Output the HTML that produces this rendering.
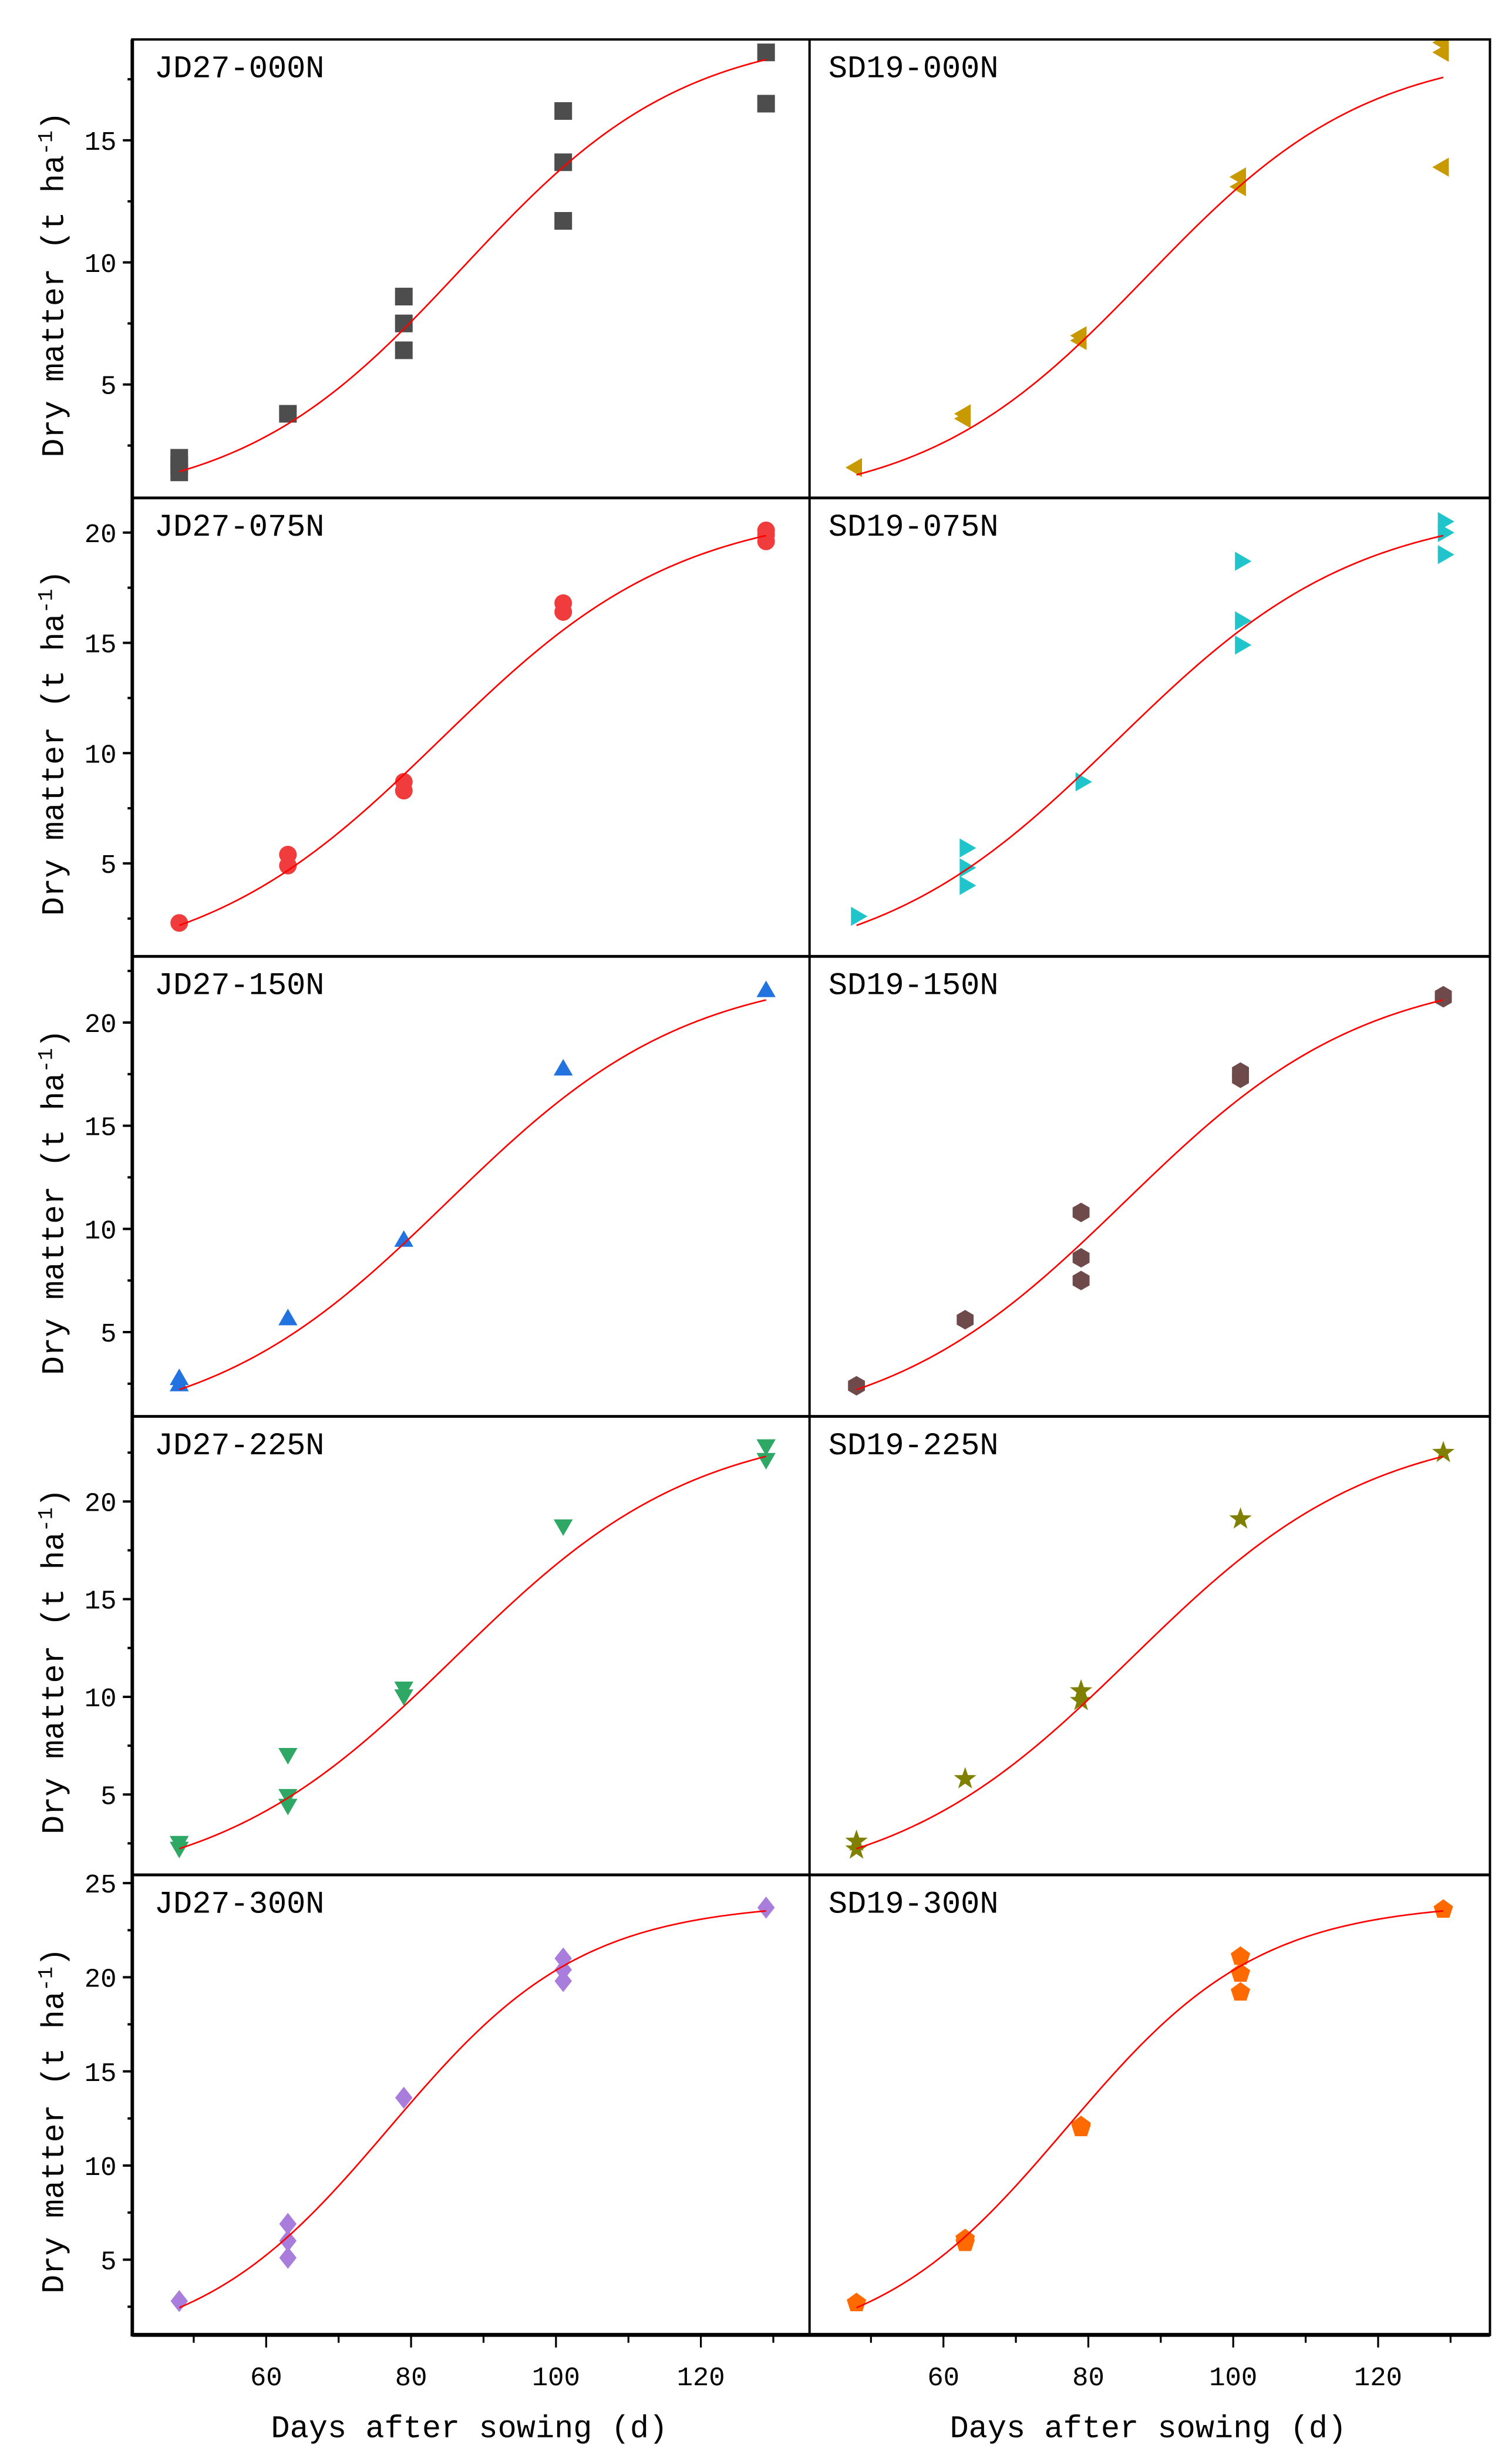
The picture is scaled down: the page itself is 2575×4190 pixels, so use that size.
<!DOCTYPE html>
<html><head><meta charset="utf-8"><style>
html,body{margin:0;padding:0;background:#fff;}
svg{display:block;}
text{font-family:"Liberation Mono","Noto Sans CJK SC",monospace;fill:#000;}
</style></head>
<body>
<svg id="chart" width="2575" height="4190" viewBox="0 0 960 1562" xmlns="http://www.w3.org/2000/svg"></svg>
<script>
const panelTitles = [["JD27-000N","SD19-000N"],["JD27-075N","SD19-075N"],["JD27-150N","SD19-150N"],["JD27-225N","SD19-225N"],["JD27-300N","SD19-300N"]];
const days = [48,63,79,101,129];
const jd000 = [[2.0,1.7,1.4],[3.8],[8.6,7.5,6.4],[16.2,14.1,11.7],[18.6,16.5]];
const sd000 = [[1.6],[3.8,3.6],[7.0,6.8],[13.5,13.1],[19.0,18.6,13.9]];
const jd075 = [[2.3],[5.4,4.9],[8.7,8.3],[16.8,16.4],[20.1,19.9,19.6]];
const sd075 = [[2.6],[5.7,4.8,4.0],[8.7],[18.7,16.0,14.9],[20.5,20.0,19.0]];
const jd150 = [[2.7,2.4],[5.6],[9.4],[17.7],[21.5]];
const sd150 = [[2.4],[5.6],[10.8,8.6,7.5],[17.6,17.3],[21.3,21.2]];
const jd225 = [[2.6,2.3],[7.1,5.0,4.5],[10.5,10.1],[18.8],[22.9,22.2]];
const sd225 = [[2.6,2.2],[5.8],[10.3,9.8],[19.1],[22.5]];
const jd300 = [[2.8],[6.9,6.0,5.1],[13.6],[21.0,20.4,19.8],[23.7]];
const sd300 = [[2.7],[6.1,5.9],[12.1,12.0],[21.1,20.2,19.2],[23.6]];
// logistic fit parameters per panel [A, t0, k]
const fitJD = [[19.5,87,0.065],[21.2,84,0.06],[22.6,85,0.06],[24,86,0.06],[24,77,0.075]];
const fitSD = [[18.8,88,0.065],[21.2,84,0.06],[22.6,85,0.06],[24,86,0.06],[24,77,0.075]];
const yTicks = [[5,10,15],[5,10,15,20],[5,10,15,20],[5,10,15,20],[5,10,15,20,25]];
const xTicks = [60,80,100,120];
const xMinor = [50,70,90,110,130];

const dataJD=[jd000,jd075,jd150,jd225,jd300], dataSD=[sd000,sd075,sd150,sd225,sd300];
const colors=[["#4d4d4d","#c99a00"],["#f03c3c","#20c5cc"],["#2272e0","#6e4a4a"],["#2fa866","#808000"],["#a97ddc","#ff6a00"]];
const shapes=[["square","tri-left"],["circle","tri-right"],["tri-up","hexagon"],["tri-down","star"],["diamond","pentagon"]];
const NS="http://www.w3.org/2000/svg";
const svg=document.getElementById('chart');
function mk(tag,attrs,parent){const e=document.createElementNS(NS,tag);for(const k in attrs)e.setAttribute(k,attrs[k]);(parent||svg).appendChild(e);return e;}
const rowTop=[25,316,607,899,1190], rowBot=[316,607,899,1190,1482];
const y0=[321.5,618,911,1201,1494], yUnit=[15.5,14,13.1,12.4,11.95];
const colX0=[169,599];
function xs(c,d){return colX0[c]+(d-60)*4.6;}
function ys(r,v){return y0[r]-v*yUnit[r];}
function markerPath(shape,cx,cy){
  const s=5.6;let p=[];
  if(shape==='square')return `M${cx-s},${cy-s}h${2*s}v${2*s}h${-2*s}z`;
  if(shape==='circle')return `M${cx-s},${cy}a${s},${s} 0 1,0 ${2*s},0a${s},${s} 0 1,0 ${-2*s},0z`;
  const poly=(n,rot,r)=>{for(let i=0;i<n;i++){const a=rot+i*2*Math.PI/n;p.push([cx+r*Math.cos(a),cy+r*Math.sin(a)]);}};
  if(shape==='tri-up')poly(3,-Math.PI/2,7);
  if(shape==='tri-down')poly(3,Math.PI/2,7);
  if(shape==='tri-left')poly(3,Math.PI,7);
  if(shape==='tri-right')poly(3,0,7);
  if(shape==='hexagon')poly(6,-Math.PI/2,6.2);
  if(shape==='pentagon')poly(5,-Math.PI/2,6.5);
  if(shape==='diamond'){p=[[cx,cy-7],[cx+5.5,cy],[cx,cy+7],[cx-5.5,cy]];}
  if(shape==='star'){for(let i=0;i<10;i++){const a=-Math.PI/2+i*Math.PI/5;const r=i%2?3:7.5;p.push([cx+r*Math.cos(a),cy+r*Math.sin(a)]);}}
  return 'M'+p.map(q=>q[0].toFixed(2)+','+q[1].toFixed(2)).join('L')+'z';
}
const panelX=[[84,514],[514,946]];
for(let r=0;r<5;r++){
  for(let c=0;c<2;c++){
    const g=mk('g',{});
    
    
    const x1=panelX[c][0],x2=panelX[c][1];
    const clip=mk('clipPath',{id:'clip'+r+c},g);
    mk('rect',{x:x1,y:rowTop[r],width:x2-x1,height:rowBot[r]-rowTop[r]},clip);
    const fit=c?fitSD[r]:fitJD[r];
    let d='';
    for(let t=48;t<=129.001;t+=0.5){const v=fit[0]/(1+Math.exp(-fit[2]*(t-fit[1])));d+=(d?'L':'M')+xs(c,t).toFixed(2)+','+ys(r,v).toFixed(2);}
    const data=c?dataSD[r]:dataJD[r];
    const mg=mk('g',{'clip-path':'url(#clip'+r+c+')'},g);
    data.forEach((vals,i)=>vals.forEach(v=>{
      const m=mk('path',{d:markerPath(shapes[r][c],xs(c,days[i]),ys(r,v)),fill:colors[r][c]},mg);
      
      
    }));
    const line=mk('path',{d:d,fill:'none',stroke:'#ff0000','stroke-width':1},mg);
    
    
    const t=mk('text',{x:x1+(c?12:14),y:rowTop[r]+24,'font-size':20},g);
    t.textContent=panelTitles[r][c];
    
    
  }
  // y ticks
  yTicks[r].forEach(v=>{
    const y=ys(r,v);
    mk('line',{x1:78,x2:84,y1:y,y2:y,stroke:'#000','stroke-width':1.5});
    const tl=mk('text',{x:74,y:y+6,'font-size':17,'text-anchor':'end'});
    tl.textContent=v;
    
    
    const ym=ys(r,v-2.5);
    if(ym<rowBot[r]&&ym>rowTop[r])mk('line',{x1:81,x2:84,y1:ym,y2:ym,stroke:'#000','stroke-width':1.5});
  });
  const ym=ys(r,yTicks[r][yTicks[r].length-1]+2.5);
  if(ym>rowTop[r])mk('line',{x1:81,x2:84,y1:ym,y2:ym,stroke:'#000','stroke-width':1.5});
  const cy=(rowTop[r]+rowBot[r])/2+10;
  const yl=mk('text',{x:0,y:0,'font-size':20,'text-anchor':'middle',transform:`translate(40,${cy}) rotate(-90)`});
  yl.innerHTML='Dry matter (t ha<tspan baseline-shift="super" font-size="13">-1</tspan>)';
  
  
}
// borders
mk('rect',{x:84,y:25,width:862,height:1457,fill:'none',stroke:'#000','stroke-width':1.5});
rowBot.slice(0,4).forEach(y=>mk('line',{x1:84,x2:946,y1:y,y2:y,stroke:'#000','stroke-width':1.8}));
mk('line',{x1:514,x2:514,y1:25,y2:1482,stroke:'#000','stroke-width':1.5});
mk('line',{x1:84,x2:84,y1:25,y2:1483,stroke:'#000','stroke-width':2.2});
mk('line',{x1:84,x2:946,y1:1482,y2:1482,stroke:'#000','stroke-width':2.5});
for(let c=0;c<2;c++){
  xTicks.forEach(v=>{
    const x=xs(c,v);
    mk('line',{x1:x,x2:x,y1:1482,y2:1490,stroke:'#000','stroke-width':1.2});
    const tl=mk('text',{x:x,y:1514,'font-size':17,'text-anchor':'middle'});
    tl.textContent=v;
    
    
  });
  xMinor.forEach(v=>{const x=xs(c,v);mk('line',{x1:x,x2:x,y1:1482,y2:1487,stroke:'#000','stroke-width':1.2});});
  const xl=mk('text',{x:c?729:298,y:1547,'font-size':20,'text-anchor':'middle'});
  xl.textContent='Days after sowing (d)';
  
  
}
</script>
</body></html>
